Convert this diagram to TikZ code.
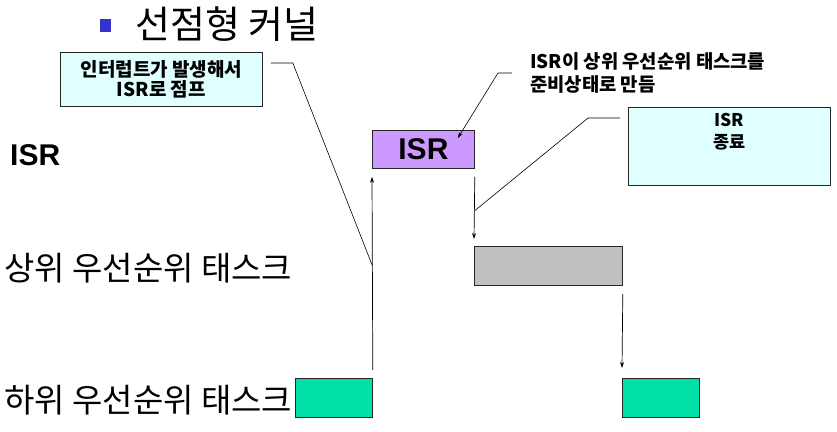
\documentclass[tikz,border=0pt]{standalone}
\usepackage{fontspec}
\setmainfont{Noto Sans CJK KR}
\newfontfamily\arialfont{Liberation Sans}
\usetikzlibrary{arrows.meta}
\definecolor{notefill}{HTML}{E0FFFF}
\definecolor{isrfill}{HTML}{CC99FF}
\definecolor{highfill}{HTML}{C0C0C0}
\definecolor{lowfill}{HTML}{00E0A8}
\definecolor{bullblue}{HTML}{3333CC}
\begin{document}
\begin{tikzpicture}[x=1pt,y=-1pt,>={Stealth[length=6pt,width=4pt]},
    task/.style={draw=black!85,line width=0.8pt,inner sep=0pt,anchor=north west,minimum height=39pt},
    note/.style={draw=black!85,fill=notefill,line width=0.8pt,inner sep=0pt,anchor=north west},
    lbl/.style={anchor=west,inner sep=0pt,font=\fontsize{33}{33}\selectfont}]
    \useasboundingbox (0,0) rectangle (837,431);
    % title
    \node[fill=bullblue,minimum width=11pt,minimum height=13pt,inner sep=0pt] (bullet) at (105,25) {};
    \node[anchor=west,inner sep=0pt,font=\fontsize{38}{38}\selectfont] (title) at (135,24) {선점형 커널};
    % row labels
    \node[lbl,font=\arialfont\bfseries\fontsize{30}{30}\selectfont] (isrlbl) at (10,155) {ISR};
    \node[lbl] (highlbl) at (4,268) {상위 우선순위 태스크};
    \node[lbl] (lowlbl) at (4,400) {하위 우선순위 태스크};
    % task bars
    \node[task,fill=lowfill,minimum width=77pt] (lowA) at (295,378) {};
    \node[task,fill=isrfill,minimum width=102pt,minimum height=38pt,font=\arialfont\bfseries\fontsize{30}{30}\selectfont] (isr) at (372,130) {ISR};
    \node[task,fill=highfill,minimum width=148pt] (high) at (474,246) {};
    \node[task,fill=lowfill,minimum width=77pt] (lowB) at (622,378) {};
    \draw[->,line width=0.7pt] ([yshift=8pt]lowA.north east) -- ([yshift=-8pt]isr.south west) coordinate[pos=0.54] (hitA);
    \draw[->,line width=0.7pt] ([yshift=-8pt]isr.south east) -- ([yshift=7pt]high.north west) coordinate[pos=0.55] (hitB);
    \draw[->,line width=0.7pt] ([yshift=-8pt]high.south east) -- ([yshift=10pt]lowB.north west);
    % callouts
    \node[note,minimum width=202pt,minimum height=54pt,align=center,font=\bfseries\fontsize{19}{20}\selectfont] (note1) at (60,52) {인터럽트가 발생해서\\ISR로 점프};
    \draw[line width=0.6pt] ([xshift=8pt,yshift=-11pt]note1.north east) -- ++(22,0) -- (hitA);
    \node[anchor=west,inner sep=0pt,align=left,font=\bfseries\fontsize{18.8}{23}\selectfont] (note2) at (530,73) {ISR이 상위 우선순위 태스크를\\준비상태로 만듬};
    \draw[->,line width=0.6pt] ([xshift=-18pt]note2.west) -- ++(-14,0) -- ([xshift=-17pt,yshift=-8pt]isr.north east);
    \node[note,minimum width=202pt,minimum height=78pt] (note3) at (628,107) {};
    \node[anchor=north,inner sep=0pt,align=center,font=\bfseries\fontsize{17.5}{22}\selectfont] (note3txt) at ([yshift=-6pt]note3.north) {ISR\\종료};
    \draw[line width=0.6pt] ([xshift=-8pt,yshift=-11pt]note3.north west) -- ++(-32,0) -- (hitB);
\end{tikzpicture}
\end{document}
